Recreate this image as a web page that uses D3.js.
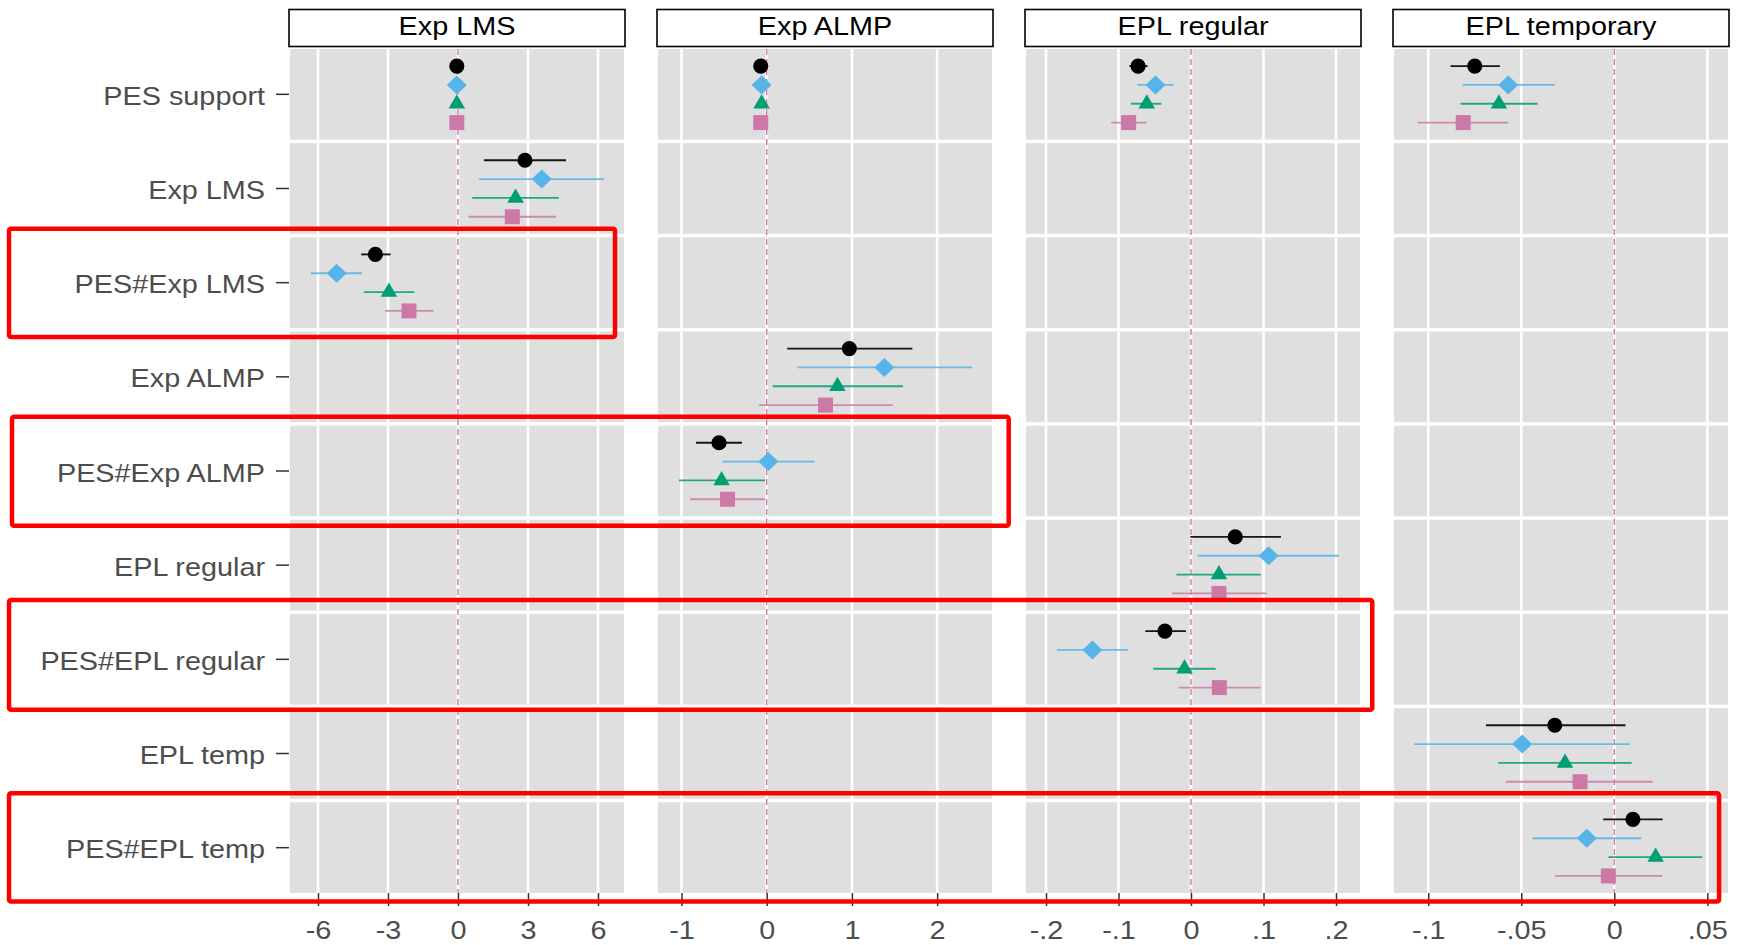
<!DOCTYPE html>
<html>
<head>
<meta charset="utf-8">
<script src="https://cdn.jsdelivr.net/npm/d3@7"></script>
<style>
  html, body { margin: 0; padding: 0; background: #ffffff; }
  svg { display: block; }
  text { font-family: "Liberation Sans", Arial, sans-serif; }
</style>
</head>
<body>
<svg id="chart" width="1742" height="945"></svg>
<script>
// ---- categories ----
const rowLabels = ["PES support", "Exp LMS", "PES#Exp LMS", "Exp ALMP", "PES#Exp ALMP",
                   "EPL regular", "PES#EPL regular", "EPL temp", "PES#EPL temp"];
const panelTitles = ["Exp LMS", "Exp ALMP", "EPL regular", "EPL temporary"];
const seriesNames = ["Model 1", "Model 2", "Model 3", "Model 4"];

// ---- axis ticks per panel ----
const tickValues = [[-6, -3, 0, 3, 6], [-1, 0, 1, 2], [-0.2, -0.1, 0, 0.1, 0.2], [-0.1, -0.05, 0, 0.05]];
const tickLabels = [["-6", "-3", "0", "3", "6"], ["-1", "0", "1", "2"],
                    ["-.2", "-.1", "0", ".1", ".2"], ["-.1", "-.05", "0", ".05"]];
const xDomains = [[-7.2, 7.115], [-1.276, 2.644], [-0.2276, 0.2331], [-0.1184, 0.0611]];

// ---- estimates: [row, panel, estimate, lower, upper] ----
const model1 = [
  ["PES support", "Exp LMS", -0.05, -0.10, 0.00],
  ["PES support", "Exp ALMP", -0.07, -0.10, -0.04],
  ["PES support", "EPL regular", -0.073, -0.085, -0.060],
  ["PES support", "EPL temporary", -0.075, -0.088, -0.0615],
  ["Exp LMS", "Exp LMS", 2.87, 1.11, 4.63],
  ["PES#Exp LMS", "Exp LMS", -3.54, -4.15, -2.89],
  ["Exp ALMP", "Exp ALMP", 0.97, 0.24, 1.71],
  ["PES#Exp ALMP", "Exp ALMP", -0.56, -0.83, -0.29],
  ["EPL regular", "EPL regular", 0.061, -0.001, 0.124],
  ["PES#EPL regular", "EPL regular", -0.036, -0.063, -0.007],
  ["EPL temp", "EPL temporary", -0.032, -0.069, 0.006],
  ["PES#EPL temp", "EPL temporary", 0.010, -0.006, 0.026]
];
const model2 = [
  ["PES support", "Exp LMS", -0.05, -0.10, 0.00],
  ["PES support", "Exp ALMP", -0.06, -0.09, -0.03],
  ["PES support", "EPL regular", -0.049, -0.074, -0.024],
  ["PES support", "EPL temporary", -0.057, -0.0815, -0.032],
  ["Exp LMS", "Exp LMS", 3.59, 0.90, 6.26],
  ["PES#Exp LMS", "Exp LMS", -5.20, -6.30, -4.11],
  ["Exp ALMP", "Exp ALMP", 1.38, 0.36, 2.41],
  ["PES#Exp ALMP", "Exp ALMP", 0.02, -0.52, 0.56],
  ["EPL regular", "EPL regular", 0.107, 0.009, 0.204],
  ["PES#EPL regular", "EPL regular", -0.136, -0.185, -0.087],
  ["EPL temp", "EPL temporary", -0.0495, -0.1075, 0.0084],
  ["PES#EPL temp", "EPL temporary", -0.0148, -0.0439, 0.0144]
];
const model3 = [
  ["PES support", "Exp LMS", -0.05, -0.10, 0.00],
  ["PES support", "Exp ALMP", -0.06, -0.09, -0.03],
  ["PES support", "EPL regular", -0.061, -0.083, -0.041],
  ["PES support", "EPL temporary", -0.062, -0.0826, -0.0412],
  ["Exp LMS", "Exp LMS", 2.47, 0.61, 4.32],
  ["PES#Exp LMS", "Exp LMS", -2.96, -4.03, -1.87],
  ["Exp ALMP", "Exp ALMP", 0.83, 0.07, 1.60],
  ["PES#Exp ALMP", "Exp ALMP", -0.53, -1.03, -0.02],
  ["EPL regular", "EPL regular", 0.0385, -0.020, 0.096],
  ["PES#EPL regular", "EPL regular", -0.009, -0.052, 0.034],
  ["EPL temp", "EPL temporary", -0.0265, -0.0624, 0.0093],
  ["PES#EPL temp", "EPL temporary", 0.0222, -0.0032, 0.0473]
];
const model4 = [
  ["PES support", "Exp LMS", -0.05, -0.10, 0.00],
  ["PES support", "Exp ALMP", -0.07, -0.10, -0.04],
  ["PES support", "EPL regular", -0.086, -0.110, -0.061],
  ["PES support", "EPL temporary", -0.0812, -0.1057, -0.057],
  ["Exp LMS", "Exp LMS", 2.33, 0.45, 4.20],
  ["PES#Exp LMS", "Exp LMS", -2.10, -3.13, -1.05],
  ["Exp ALMP", "Exp ALMP", 0.69, -0.09, 1.48],
  ["PES#Exp ALMP", "Exp ALMP", -0.46, -0.90, -0.02],
  ["EPL regular", "EPL regular", 0.0385, -0.026, 0.104],
  ["PES#EPL regular", "EPL regular", 0.039, -0.017, 0.096],
  ["EPL temp", "EPL temporary", -0.0184, -0.0582, 0.0206],
  ["PES#EPL temp", "EPL temporary", -0.0032, -0.0319, 0.0258]
];

// ---- highlighted interaction rows: [row, last panel, right edge value, left px, top pad, bottom pad] ----
const highlightRows = [
  ["PES#Exp LMS", "Exp LMS", 6.73, 9, -8.5, 9],
  ["PES#Exp ALMP", "Exp ALMP", 2.84, 12, -9, 9.5],
  ["PES#EPL regular", "EPL regular", 0.25, 9, -14, 5],
  ["PES#EPL temp", "EPL temporary", 0.0563, 9, -9, 8.5]
];

// ---- styling ----
const colors = ["#000000", "#56B4E9", "#009E73", "#CC79A7"];
const panelFill = "#DFDFDF";
const fontSize = 25.5;
const stretch = 1.13;

// ---- layout ----
const svg = d3.select("#chart");
const plotLeft = 290, plotRight = 1728, plotTop = 49, plotBottom = 893;
const panelGap = 34;
const panelW = (plotRight - plotLeft - panelGap * (panelTitles.length - 1)) / panelTitles.length;

const panelX = d3.scaleBand().domain(panelTitles)
  .range([plotLeft, plotRight + panelGap]).paddingInner(0).paddingOuter(0);

const xScales = panelTitles.map((p, i) => {
  const left = panelX(p);
  return d3.scaleLinear().domain(xDomains[i]).range([left, left + panelW]);
});

const yBand = d3.scaleBand().domain(rowLabels).range([plotTop, plotBottom])
  .paddingInner(0.0372).paddingOuter(0);
const step = yBand.step();
const dodge = d3.scalePoint().domain(seriesNames).range([-0.3 * step, 0.3 * step]);

// custom wide diamond symbol
const wideDiamond = {
  draw(ctx, size) {
    const h = Math.sqrt(size / 2.1);
    const w = h * 1.05;
    ctx.moveTo(0, -h); ctx.lineTo(w, 0); ctx.lineTo(0, h); ctx.lineTo(-w, 0); ctx.closePath();
  }
};
const symbolTypes = [d3.symbolCircle, wideDiamond, d3.symbolTriangle, d3.symbolSquare];
const symbolSizes = [180, 190, 118, 225];

// ---- panels ----
panelTitles.forEach((p, pi) => {
  const x = xScales[pi];
  const g = svg.append("g").attr("class", "panel");

  // row backgrounds
  g.selectAll("rect.bg").data(rowLabels).join("rect")
    .attr("class", "bg")
    .attr("x", x.range()[0]).attr("width", panelW)
    .attr("y", d => yBand(d)).attr("height", yBand.bandwidth())
    .attr("fill", panelFill);

  // vertical grid
  rowLabels.forEach(r => {
    g.selectAll(null).data(tickValues[pi]).join("line")
      .attr("x1", d => x(d)).attr("x2", d => x(d))
      .attr("y1", yBand(r)).attr("y2", yBand(r) + yBand.bandwidth())
      .attr("stroke", "#ffffff").attr("stroke-width", 2.6);
  });

  // zero reference line
  g.append("line")
    .attr("x1", x(0)).attr("x2", x(0))
    .attr("y1", plotTop).attr("y2", plotBottom)
    .attr("stroke", "#CC79A7").attr("stroke-width", 1.4)
    .attr("stroke-dasharray", "6,4");

  // strip
  svg.append("rect")
    .attr("x", x.range()[0] - 1).attr("y", 9.5)
    .attr("width", panelW + 2).attr("height", 37)
    .attr("fill", "#ffffff").attr("stroke", "#000000").attr("stroke-width", 1.6);
  svg.append("text")
    .attr("transform", `translate(${(x.range()[0] + x.range()[1]) / 2},35) scale(${stretch},1)`)
    .attr("text-anchor", "middle")
    .attr("font-size", fontSize)
    .attr("fill", "#000000")
    .text(p);

  // x axis
  const ax = svg.append("g")
    .attr("transform", `translate(0,${plotBottom})`)
    .call(d3.axisBottom(x).tickValues(tickValues[pi])
      .tickFormat((d, i) => tickLabels[pi][i]).tickSize(13).tickSizeOuter(0));
  ax.select(".domain").remove();
  ax.selectAll(".tick line").attr("stroke", "#333333").attr("stroke-width", 1.5);
  ax.selectAll(".tick text")
    .attr("y", null).attr("dy", null)
    .attr("transform", `translate(0,45.5) scale(${stretch},1)`)
    .attr("font-size", fontSize)
    .attr("font-family", "Liberation Sans, Arial, sans-serif")
    .attr("fill", "#4D4D4D");
});

// ---- y axis ----
const ay = svg.append("g")
  .attr("transform", `translate(${plotLeft - 1},0)`)
  .call(d3.axisLeft(yBand).tickSize(13).tickSizeOuter(0));
ay.select(".domain").remove();
ay.selectAll(".tick line").attr("stroke", "#333333").attr("stroke-width", 1.5);
ay.selectAll(".tick text")
  .attr("x", null).attr("dy", "0.355em")
  .attr("transform", `translate(-24,1.5) scale(${stretch},1)`)
  .attr("font-size", fontSize)
  .attr("font-family", "Liberation Sans, Arial, sans-serif")
  .attr("fill", "#4D4D4D");

// ---- estimates with confidence intervals ----
const allSeries = [model1, model2, model3, model4];
allSeries.forEach((rows, si) => {
  const name = seriesNames[si];
  const g = svg.append("g").attr("class", "series");
  const recs = rows.map(([row, panel, est, lo, hi]) => ({ row, panel, est, lo, hi }));
  const xOf = d => xScales[panelTitles.indexOf(d.panel)];
  const yOf = d => yBand(d.row) + yBand.bandwidth() / 2 + dodge(name);

  g.selectAll("line").data(recs).join("line")
    .attr("x1", d => xOf(d)(d.lo)).attr("x2", d => xOf(d)(d.hi))
    .attr("y1", yOf).attr("y2", yOf)
    .attr("stroke", colors[si]).attr("stroke-width", 1.9)
    .attr("stroke-opacity", si === 0 ? 0.9 : 0.85);

  g.selectAll("path").data(recs).join("path")
    .attr("d", d3.symbol().type(symbolTypes[si]).size(symbolSizes[si]))
    .attr("transform", d => `translate(${xOf(d)(d.est)},${yOf(d)})`)
    .attr("fill", colors[si]);
});

// ---- highlight boxes around interaction rows ----
svg.append("g").selectAll("rect").data(highlightRows).join("rect")
  .attr("x", d => d[3])
  .attr("y", d => yBand(d[0]) + d[4])
  .attr("width", d => xScales[panelTitles.indexOf(d[1])](d[2]) - d[3])
  .attr("height", d => yBand.bandwidth() - d[4] + d[5])
  .attr("rx", 2)
  .attr("fill", "none")
  .attr("stroke", "#FF0000")
  .attr("stroke-width", 4.5);
</script>
</body>
</html>
